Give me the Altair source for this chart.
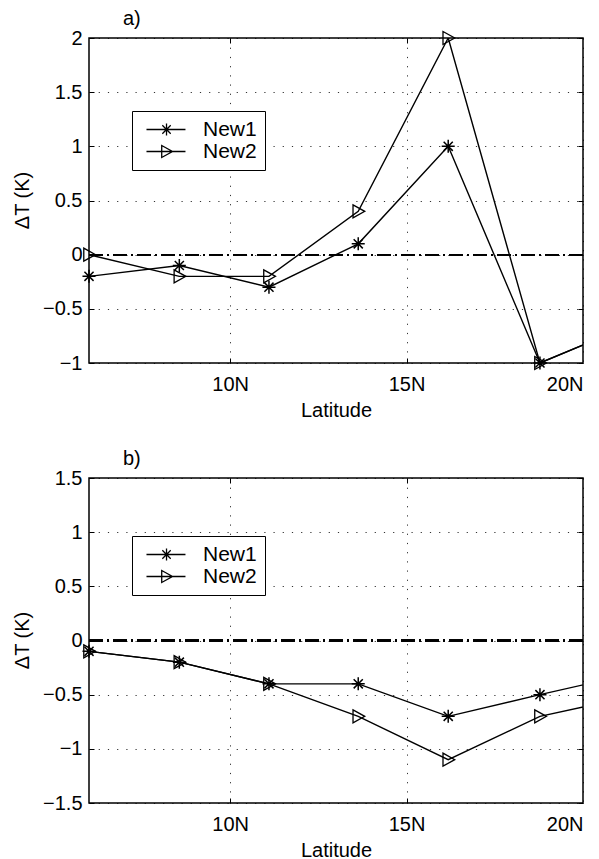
import altair as alt
import pandas as pd

FONT = "Liberation Sans"

# Latitude positions (degrees N); last point lies beyond the 20N edge and is clipped
lat = [6.0, 8.56, 11.1, 13.63, 16.18, 18.78, 21.34]
series_names = ["New1", "New2"]

a_new1 = [-0.2, -0.1, -0.3, 0.1, 1.0, -1.0, -0.65]
a_new2 = [0.0, -0.2, -0.2, 0.4, 2.0, -1.0, -0.65]
b_new1 = [-0.1, -0.2, -0.4, -0.4, -0.7, -0.5, -0.31]
b_new2 = [-0.1, -0.2, -0.4, -0.7, -1.1, -0.7, -0.52]

x_ticks = [10, 15, 20]
a_yticks = [-1, -0.5, 0, 0.5, 1, 1.5, 2]
b_yticks = [-1.5, -1, -0.5, 0, 0.5, 1, 1.5]

W, H = 494, 325

ASTER = "M-1,0L1,0M0,-1L0,1M-0.7,-0.7L0.7,0.7M-0.7,0.7L0.7,-0.7"
TRI = "M-0.8,-1L1,0L-0.8,1Z"
LEG_ASTER = "M-0.67,0L5.83,0M1.67,0L3.67,0M2.67,-1L2.67,1M1.97,-0.7L3.37,0.7M1.97,0.7L3.37,-0.7"
LEG_TRI = "M-0.67,0L5.83,0M1.87,-1L3.67,0L1.87,1Z"


def make_df(v1, v2):
    rows = []
    for name, vals in zip(series_names, [v1, v2]):
        for la, v in zip(lat, vals):
            rows.append({"lat": la, "dt": v, "series": name})
    return pd.DataFrame(rows)


def tick_axis(orient, offset, values):
    return alt.Axis(
        orient=orient, offset=offset, values=values, labels=False, title=None,
        domain=False, grid=False, ticks=True, tickSize=5, tickColor="black", tickWidth=1,
    )


def panel(df, label, ydomain, yticks, legy):
    xscale = alt.Scale(domain=[6, 20], nice=False, zero=False)
    yscale = alt.Scale(domain=ydomain, nice=False, zero=False)
    xenc = alt.X(
        "lat:Q", scale=xscale,
        axis=alt.Axis(
            values=x_ticks, labelExpr="datum.value + 'N'", title="Latitude",
            grid=True, gridDash=[1.2, 8], gridColor="black", gridOpacity=0.8,
            ticks=False, tickSize=0, domain=False, labelPadding=11, titlePadding=6,
            labelFont=FONT, labelFontSize=20, titleFont=FONT, titleFontSize=20,
            titleFontWeight="normal", labelColor="black", titleColor="black",
        ),
    )
    yenc = alt.Y(
        "dt:Q", scale=yscale,
        axis=alt.Axis(
            values=yticks, format="~g", title="ΔT (K)",
            grid=True, gridDash=[1.2, 8], gridColor="black", gridOpacity=0.8,
            ticks=False, tickSize=0, domain=False, labelPadding=7,
            labelFont=FONT, labelFontSize=20, titleFont=FONT, titleFontSize=20,
            titleFontWeight="normal", labelColor="black", titleColor="black",
            titleX=-67, titleY=162, titleAngle=270, titleAlign="center", titleBaseline="middle",
        ),
    )
    xn = alt.X("lat:Q", scale=xscale, axis=None)
    yn = alt.Y("dt:Q", scale=yscale, axis=None)
    base = alt.Chart(df)
    lines = base.mark_line(color="black", strokeWidth=1.4, clip=True).encode(
        x=xenc, y=yenc, detail="series:N"
    )
    zero = base.mark_rule(color="black", strokeWidth=1.3, strokeDash=[14, 4, 2, 4]).encode(
        y=alt.YDatum(0, axis=None)
    )
    t1 = base.mark_point(opacity=0, clip=True).encode(
        x=alt.X("lat:Q", scale=xscale, axis=tick_axis("top", -H, [10, 15])),
        y=alt.Y("dt:Q", scale=yscale, axis=tick_axis("right", -W, yticks)),
    )
    t2 = base.mark_point(opacity=0, clip=True).encode(
        x=alt.X("lat:Q", scale=xscale, axis=tick_axis("bottom", -H, [10, 15])),
        y=alt.Y("dt:Q", scale=yscale, axis=tick_axis("left", -W, yticks)),
    )
    p1 = base.transform_filter(
        (alt.datum.series == "New1") & (alt.datum.lat <= 20)
    ).mark_point(shape=ASTER, size=170, filled=False, color="black", strokeWidth=1.5, opacity=1).encode(x=xn, y=yn)
    p2 = base.transform_filter(
        (alt.datum.series == "New2") & (alt.datum.lat <= 20)
    ).mark_point(shape=TRI, size=170, filled=False, color="black", strokeWidth=1.3, opacity=1).encode(x=xn, y=yn)
    leg = base.transform_filter(alt.datum.lat > 20).mark_point(
        clip=True, filled=False, color="black", size=144, opacity=1
    ).encode(
        x=xn, y=yn,
        shape=alt.Shape(
            "series:N",
            scale=alt.Scale(domain=series_names, range=[LEG_ASTER, LEG_TRI]),
            legend=alt.Legend(
                orient="none", legendX=43, legendY=legy, title=None,
                strokeColor="black", fillColor="white", padding=8,
                labelFont=FONT, labelFontSize=21, labelColor="black",
                labelOffset=42, symbolSize=144, symbolStrokeColor="black",
                symbolStrokeWidth=1.3, symbolFillColor="transparent",
                rowPadding=0, labelLimit=200,
            ),
        ),
    )
    return alt.layer(lines, zero, t1, t2, p1, p2, leg).resolve_axis(
        x="independent", y="independent"
    ).properties(
        width=W, height=H,
        title=alt.TitleParams(
            label, anchor="start", frame="group", dx=34, fontSize=20,
            font=FONT, fontWeight="normal", color="black", offset=-1,
        ),
    )


chart = alt.vconcat(
    panel(make_df(a_new1, a_new2), "a)", [-1, 2], a_yticks, 73),
    panel(make_df(b_new1, b_new2), "b)", [-1.5, 1.5], b_yticks, 58),
    spacing=27,
).resolve_scale(shape="independent").resolve_legend(shape="independent").properties(
    padding={"left": 3, "top": 0, "right": 5, "bottom": 0}
).configure(
    background="white",
    view=alt.ViewConfig(stroke="black", strokeWidth=1.5),
)

chart.save("out.html", embed_options={"renderer": "svg", "actions": False})
